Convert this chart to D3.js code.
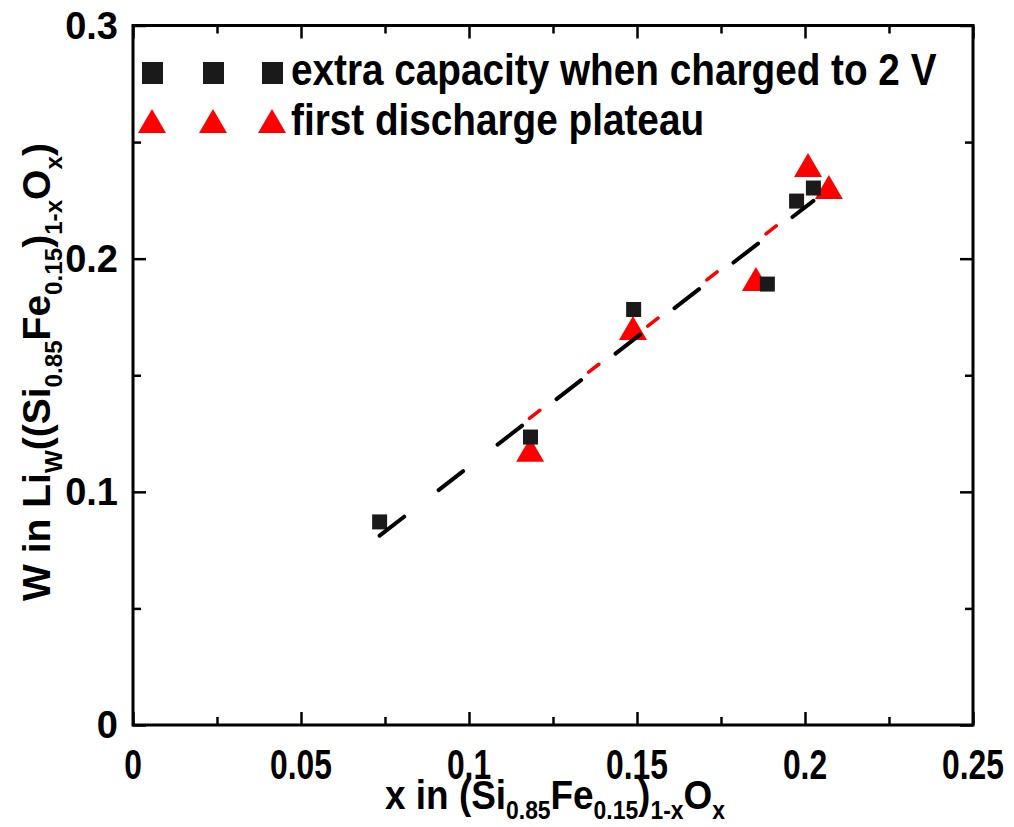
<!DOCTYPE html>
<html>
<head>
<meta charset="utf-8">
<script src="https://cdn.jsdelivr.net/npm/d3@7"></script>
<style>
  body { margin: 0; background: #fff; }
  text { font-family: "Liberation Sans", Arial, sans-serif; font-weight: bold; fill: #000; }
</style>
</head>
<body>
<div id="chart"></div>
<script>
// axis ticks
const xTicks = [0, 0.05, 0.1, 0.15, 0.2, 0.25];
const xMinor = [0.025, 0.075, 0.125, 0.175, 0.225];
const yTicks = [0, 0.1, 0.2, 0.3];
const yMinor = [0.05, 0.15, 0.25];

// extra capacity when charged to 2 V (squares)
const capX = [0.0734, 0.1183, 0.1490, 0.1888, 0.1975, 0.2025];
const capY = [0.0871, 0.1235, 0.1782, 0.1891, 0.2247, 0.2303];
// first discharge plateau (triangles)
const platX = [0.1182, 0.1488, 0.1854, 0.2009, 0.2071];
const platY = [0.1181, 0.1703, 0.1913, 0.2402, 0.2307];

// linear fits, end points as read
const capFitX = [0.0734, 0.2025];
const capFitY = [0.0812, 0.2248];
const platFitX = [0.1180, 0.2071];
const platFitY = [0.1315, 0.2317];

const legendLabels = ["extra capacity when charged to 2 V", "first discharge plateau"];

const W = 1014, H = 827;
const margin = {top: 25.5, right: 41, bottom: 102, left: 133};
const width = W - margin.left - margin.right;
const height = H - margin.top - margin.bottom;

const svg = d3.select("#chart").append("svg")
    .attr("width", W)
    .attr("height", H);
const g = svg.append("g")
    .attr("transform", "translate(" + margin.left + "," + margin.top + ")");

const x = d3.scaleLinear().domain([0, 0.25]).range([0, width]);
const y = d3.scaleLinear().domain([0, 0.3]).range([height, 0]);

const fmt = d => d === 0 ? "0" : String(d);

// ticks on all four sides, pointing inward
function ticks(axis, values, size, tx, ty) {
    const a = g.append("g")
        .attr("transform", "translate(" + tx + "," + ty + ")")
        .call(axis.tickValues(values).tickSize(-size).tickSizeOuter(0).tickFormat(""));
    a.select(".domain").remove();
    a.selectAll("line").attr("stroke", "#000").attr("stroke-width", 2.5);
    return a;
}
ticks(d3.axisBottom(x), xTicks, 13, 0, height);
ticks(d3.axisBottom(x), xMinor, 8, 0, height);
ticks(d3.axisTop(x), xTicks, 13, 0, 0);
ticks(d3.axisTop(x), xMinor, 8, 0, 0);
ticks(d3.axisLeft(y), yTicks, 13, 0, 0);
ticks(d3.axisLeft(y), yMinor, 8, 0, 0);
ticks(d3.axisRight(y), yTicks, 13, width, 0);
ticks(d3.axisRight(y), yMinor, 8, width, 0);

g.append("rect")
    .attr("width", width)
    .attr("height", height)
    .attr("fill", "none")
    .attr("stroke", "#000")
    .attr("stroke-width", 3);

// tick labels
g.selectAll(".xl").data(xTicks).join("text")
    .attr("class", "xl")
    .attr("transform", d => "translate(" + x(d) + "," + (height + 54) + ") scale(0.74,1)")
    .attr("text-anchor", "middle")
    .style("font-size", "43px")
    .text(fmt);

g.selectAll(".yl").data(yTicks).join("text")
    .attr("class", "yl")
    .attr("x", -15)
    .attr("y", d => y(d) + 13)
    .attr("text-anchor", "end")
    .style("font-size", "38px")
    .text(fmt);

// text with subscripts
function richText(sel, parts, size, drop) {
    sel.style("font-size", size + "px");
    let shift = 0;
    parts.forEach(p => {
        const want = p[1] ? size * drop : 0;
        sel.append("tspan")
            .attr("dy", want - shift)
            .style("font-size", p[1] ? (size * 0.62) + "px" : size + "px")
            .text(p[0]);
        shift = want;
    });
}

const xTitle = svg.append("text")
    .attr("text-anchor", "middle")
    .attr("transform", "translate(555,809) scale(0.9,1)");
richText(xTitle, [["x in (Si"], ["0.85", 1], ["Fe"], ["0.15", 1], [")"], ["1-x", 1], ["O"], ["x", 1]], 41, 0.24);

const yTitle = svg.append("text")
    .attr("text-anchor", "middle")
    .attr("transform", "translate(50,372) rotate(-90)");
richText(yTitle, [["W in Li"], ["W", 1], ["((Si"], ["0.85", 1], ["Fe"], ["0.15", 1], [")"], ["1-x", 1], ["O"], ["x", 1], [")"]], 39, 0.3);

// fit lines
const line = d3.line().x(d => x(d[0])).y(d => y(d[1]));

// markers
const tri = d3.path();
tri.moveTo(0, -12); tri.lineTo(14, 12); tri.lineTo(-14, 12); tri.closePath();

g.selectAll(".tri").data(d3.zip(platX, platY)).join("path")
    .attr("class", "tri")
    .attr("transform", d => "translate(" + x(d[0]) + "," + y(d[1]) + ")")
    .attr("d", tri.toString())
    .attr("fill", "#ff0000");

g.selectAll(".sq").data(d3.zip(capX, capY)).join("rect")
    .attr("class", "sq")
    .attr("x", d => x(d[0]) - 7.5)
    .attr("y", d => y(d[1]) - 7.5)
    .attr("width", 15)
    .attr("height", 15)
    .attr("fill", "#1a1a1a");

g.append("path")
    .datum(d3.zip(platFitX, platFitY))
    .attr("d", line)
    .attr("fill", "none")
    .attr("stroke", "#ff0000")
    .attr("stroke-width", 3.5)
    .attr("stroke-linecap", "round")
    .attr("stroke-dasharray", "13,62");

g.append("path")
    .datum(d3.zip(capFitX, capFitY))
    .attr("d", line)
    .attr("fill", "none")
    .attr("stroke", "#000")
    .attr("stroke-width", 4)
    .attr("stroke-linecap", "round")
    .attr("stroke-dasharray", "31,43.5");

// legend
const legX = [152, 213, 272];
const leg = svg.append("g");
legX.forEach(lx => {
    leg.append("rect").attr("x", lx - 10).attr("y", 62).attr("width", 21).attr("height", 22).attr("fill", "#1a1a1a");
    leg.append("path").attr("transform", "translate(" + lx + ",121)").attr("d", tri.toString()).attr("fill", "#ff0000");
});
legendLabels.forEach((t, i) => {
    leg.append("text")
        .attr("transform", "translate(291," + (85 + i * 50) + ") scale(0.88,1)")
        .style("font-size", "44px")
        .text(t);
});
</script>
</body>
</html>
